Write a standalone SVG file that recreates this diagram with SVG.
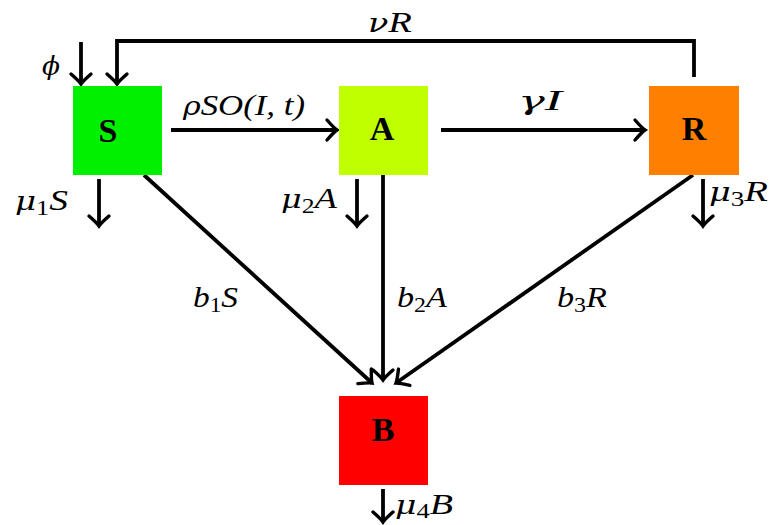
<svg xmlns="http://www.w3.org/2000/svg" width="772" height="525" viewBox="0 0 772 525">
<style>
.box{stroke:none}
.bl{font-family:"Liberation Serif","DejaVu Serif",serif;font-weight:bold;font-size:34px;text-anchor:middle;fill:#000}
.lbl{font-family:"Liberation Serif","DejaVu Serif",serif;font-style:italic;font-size:30px;fill:#000}
.gr{font-family:"DejaVu Serif",serif;font-size:26px}
.sub{font-style:normal;font-size:21px}
.c{fill:none;stroke:#000;stroke-width:3.8}
</style>
<defs>
<marker id="ah" markerUnits="userSpaceOnUse" markerWidth="30" markerHeight="30" viewBox="-15 -15 30 30" refX="0" refY="0" orient="auto">
<path d="M-10,-10 Q-3,-2 0,0 Q-3,2 -10,10" fill="none" stroke="#000" stroke-width="3.4" stroke-linecap="round"/>
</marker>
</defs>
<rect width="772" height="525" fill="#fff"/>
<g id="connectors">
<line class="c" x1="81" y1="42" x2="81" y2="84" marker-end="url(#ah)"/>
<path class="c" d="M694,77 V41 H117 V84" marker-end="url(#ah)"/>
<line class="c" x1="99" y1="179" x2="99" y2="226" marker-end="url(#ah)"/>
<line class="c" x1="171" y1="130" x2="337" y2="130" marker-end="url(#ah)"/>
<line class="c" x1="441" y1="130" x2="645" y2="130" marker-end="url(#ah)"/>
<line class="c" x1="357" y1="179" x2="357" y2="226" marker-end="url(#ah)"/>
<line class="c" x1="383" y1="175" x2="383" y2="380" marker-end="url(#ah)"/>
<line class="c" x1="703" y1="179" x2="703" y2="226" marker-end="url(#ah)"/>
<line class="c" x1="144" y1="175" x2="372" y2="383" marker-end="url(#ah)"/>
<line class="c" x1="693" y1="175" x2="396" y2="383" marker-end="url(#ah)"/>
<line class="c" x1="383" y1="489" x2="383" y2="522" marker-end="url(#ah)"/>
</g>
<g id="labels">
<text class="lbl" x="368" y="32" textLength="44" lengthAdjust="spacingAndGlyphs"><tspan class="gr">ν</tspan>R</text>
<text class="lbl" x="42" y="75" textLength="18" lengthAdjust="spacingAndGlyphs"><tspan class="gr">ϕ</tspan></text>
<text class="lbl" x="183" y="115" textLength="122" lengthAdjust="spacingAndGlyphs"><tspan class="gr">ρ</tspan>SO(I, t)</text>
<text class="lbl" x="518" y="110" textLength="44" lengthAdjust="spacingAndGlyphs"><tspan class="gr">γ</tspan>I</text>
<text class="lbl" x="15" y="210" textLength="53" lengthAdjust="spacingAndGlyphs"><tspan class="gr">μ</tspan><tspan class="sub" dy="5">1</tspan><tspan dy="-5">S</tspan></text>
<text class="lbl" x="281" y="208" textLength="56" lengthAdjust="spacingAndGlyphs"><tspan class="gr">μ</tspan><tspan class="sub" dy="5">2</tspan><tspan dy="-5">A</tspan></text>
<text class="lbl" x="709" y="201" textLength="59" lengthAdjust="spacingAndGlyphs"><tspan class="gr">μ</tspan><tspan class="sub" dy="5">3</tspan><tspan dy="-5">R</tspan></text>
<text class="lbl" x="395" y="514" textLength="58" lengthAdjust="spacingAndGlyphs"><tspan class="gr">μ</tspan><tspan class="sub" dy="4">4</tspan><tspan dy="-4">B</tspan></text>
<text class="lbl" x="193" y="307" textLength="45" lengthAdjust="spacingAndGlyphs">b<tspan class="sub" dy="5">1</tspan><tspan dy="-5">S</tspan></text>
<text class="lbl" x="397" y="307" textLength="50" lengthAdjust="spacingAndGlyphs">b<tspan class="sub" dy="5">2</tspan><tspan dy="-5">A</tspan></text>
<text class="lbl" x="557" y="307" textLength="50" lengthAdjust="spacingAndGlyphs">b<tspan class="sub" dy="5">3</tspan><tspan dy="-5">R</tspan></text>
</g>
<g id="node-S"><rect class="box" x="73" y="86" width="89" height="89" fill="#00f000"/><text class="bl" x="108" y="142">S</text></g>
<g id="node-A"><rect class="box" x="339" y="86" width="89" height="89" fill="#bfff00"/><text class="bl" x="382" y="140">A</text></g>
<g id="node-R"><rect class="box" x="649" y="86" width="90" height="89" fill="#ff8000"/><text class="bl" x="694" y="140">R</text></g>
<g id="node-B"><rect class="box" x="339" y="396" width="89" height="89" fill="#ff0000"/><text class="bl" x="383" y="441">B</text></g>
</svg>
